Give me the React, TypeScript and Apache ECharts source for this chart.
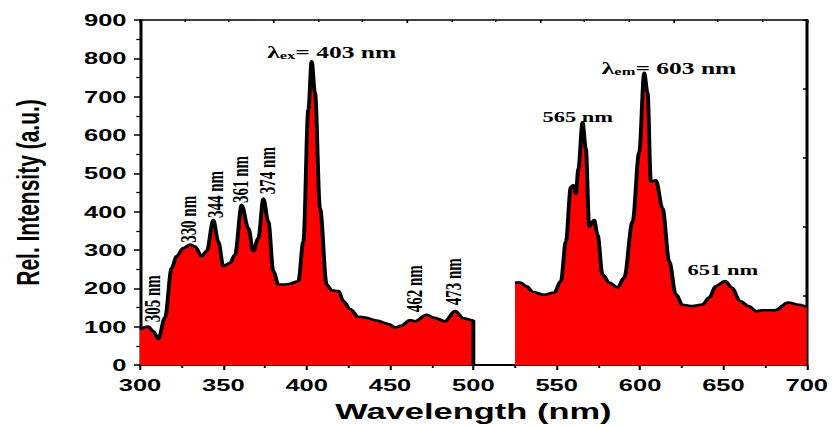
import React, { useEffect, useRef } from "react";
import * as echarts from "echarts";

// Reference figure is horizontally stretched; draw narrow then stretch.
const STRETCH = 1.5;
const W = 832 / STRETCH;
const H = 427;

const xTicksMin = 300;
const xTicksMax = 700;
const xInterval = 50;
const yMin = 0;
const yMax = 900;
const yInterval = 100;

// Excitation spectrum (λem = 603 nm)
const wavelengthEx = [
  300, 305, 308, 311, 315, 319, 322, 326, 330, 333, 337, 340, 344, 347, 350,
  354, 357, 361, 365, 368, 371, 374, 377, 380, 383, 387, 390, 395, 398, 401,
  403, 405, 408, 412, 415, 419, 422, 426, 431, 435, 442, 449, 453, 457, 462,
  465, 472, 476, 483, 489, 494, 500, 500,
];
const intensityEx = [
  93, 100, 88, 68, 124, 253, 284, 305, 314, 309, 284, 297, 378, 322, 258,
  266, 288, 417, 357, 297, 331, 434, 374, 245, 210, 210, 212, 219, 322, 667,
  792, 710, 409, 210, 195, 193, 167, 146, 126, 124, 116, 107, 98, 103, 117,
  114, 131, 124, 114, 141, 122, 116, 0,
];

// Emission spectrum (λex = 403 nm)
const wavelengthEm = [
  525, 528, 532, 535.5, 542.5, 548.5, 552.5, 555.5, 558.5, 560, 561.5, 563,
  565.5, 567.5, 569.5, 572.5, 574.5, 577.5, 581.5, 586.5, 590.5, 595.5, 599.5,
  602.5, 604.5, 606.5, 609.5, 613.5, 617.5, 621.5, 625.5, 631.5, 637.5, 641.5,
  645.5, 651, 655, 660, 665, 670, 673, 681, 689, 694, 700,
];
const intensityEm = [
  215, 215, 205, 191, 183, 189, 219, 322, 465, 469, 447, 512,
  633, 564, 361, 378, 340, 236, 215, 202, 228, 374, 555,
  762, 710, 478, 482, 409, 271, 184, 157, 154, 158, 176,
  206, 219, 202, 167, 154, 140, 143, 143, 163, 158, 152,
];

// Peak annotations (label centre in data coordinates)
const rotatedLabels = ["305 nm", "330 nm", "344 nm", "361 nm", "374 nm", "462 nm", "473 nm"];
const rotatedLabelNm = [307.2, 329.3, 345.5, 360.5, 376.6, 464.7, 488];
const rotatedLabelVal = [173, 380, 445, 484, 507, 199, 217];

const flatLabels = ["565 nm", "651 nm"];
const flatLabelNm = [562.6, 649.7];
const flatLabelVal = [646, 247];

const exLabel = { sub: "ex", text: "= 403 nm", nm: 415, val: 820 };
const emLabel = { sub: "em", text: "= 603 nm", nm: 617.4, val: 778 };

const SERIF = "'Liberation Serif', 'Times New Roman', serif";
const SANS = "'Liberation Sans', Arial, sans-serif";

function buildOption() {
  const exData = wavelengthEx.map((x, i) => [x, intensityEx[i]]);
  const emData = wavelengthEm.map((x, i) => [x, intensityEm[i]]);

  const richLambda = {
    a: { fontFamily: SERIF, fontWeight: "bold", fontSize: 17, color: "#000", lineHeight: 20, verticalAlign: "bottom" },
    s: { fontFamily: SERIF, fontWeight: "bold", fontSize: 11, color: "#000", lineHeight: 13, verticalAlign: "bottom" },
  };

  const markData: any[] = [];
  rotatedLabels.forEach((t, i) => {
    markData.push({
      coord: [rotatedLabelNm[i], rotatedLabelVal[i]],
      label: { formatter: t, rotate: 90 },
    });
  });
  flatLabels.forEach((t, i) => {
    markData.push({
      coord: [flatLabelNm[i], flatLabelVal[i]],
      label: { formatter: t, rotate: 0 },
    });
  });
  [exLabel, emLabel].forEach((l) => {
    markData.push({
      coord: [l.nm, l.val],
      label: {
        formatter: `{a|λ}{s|${l.sub}}{a|${l.text}}`,
        rich: richLambda,
        rotate: 0,
      },
    });
  });

  const areaSeries = (data: number[][], withMarks: boolean) => ({
    type: "line",
    data,
    xAxisIndex: 0,
    yAxisIndex: 0,
    showSymbol: false,
    symbol: "none",
    smooth: 0.35,
    smoothMonotone: "x",
    lineStyle: { color: "#000", width: 2.6 },
    areaStyle: { color: "#ff0000", opacity: 1 },
    z: 3,
    silent: true,
    markPoint: withMarks
      ? {
          symbol: "circle",
          symbolSize: 1,
          itemStyle: { color: "rgba(0,0,0,0)" },
          silent: true,
          label: {
            show: true,
            position: "inside",
            color: "#000",
            fontFamily: SERIF,
            fontWeight: "bold",
            fontSize: 15,
            align: "center",
            verticalAlign: "middle",
          },
          data: markData,
        }
      : undefined,
  });

  return {
    animation: false,
    backgroundColor: "#fff",
    grid: { left: 93.33, right: 16, top: 20, bottom: 59, containLabel: false },
    xAxis: [
      {
        type: "value",
        position: "bottom",
        min: xTicksMin,
        max: xTicksMax,
        interval: xInterval,
        name: "Wavelength (nm)",
        nameLocation: "middle",
        nameGap: 34,
        nameTextStyle: { fontFamily: SANS, fontWeight: "bold", fontSize: 23, color: "#000" },
        axisLine: { show: true, onZero: false, lineStyle: { color: "#000", width: 2 } },
        axisTick: { show: true, inside: false, length: 5, lineStyle: { color: "#000", width: 1.4 } },
        minorTick: { show: true, splitNumber: 2, length: 3, lineStyle: { color: "#000", width: 1.3 } },
        axisLabel: { show: true, margin: 12, fontFamily: SANS, fontWeight: "bold", fontSize: 17, color: "#000" },
        splitLine: { show: false },
      },
      {
        type: "value",
        position: "top",
        min: 0,
        max: 5,
        interval: 1,
        axisLine: { show: true, onZero: false, lineStyle: { color: "#000", width: 1.5 } },
        axisTick: { show: true, inside: true, length: 3, lineStyle: { color: "#000", width: 1.2 } },
        minorTick: { show: true, splitNumber: 3, length: 2, lineStyle: { color: "#000", width: 1 } },
        axisLabel: { show: false },
        splitLine: { show: false },
      },
    ],
    yAxis: [
      {
        type: "value",
        position: "left",
        min: yMin,
        max: yMax,
        interval: yInterval,
        name: "Rel. Intensity (a.u.)",
        nameLocation: "middle",
        nameGap: 64,
        nameTextStyle: { fontFamily: SANS, fontWeight: "bold", fontSize: 21, color: "#000" },
        axisLine: { show: true, onZero: false, lineStyle: { color: "#000", width: 2 } },
        axisTick: { show: true, inside: false, length: 4, lineStyle: { color: "#000", width: 1.5 } },
        minorTick: { show: true, splitNumber: 2, length: 2.5, lineStyle: { color: "#000", width: 1.3 } },
        axisLabel: { show: true, margin: 9, fontFamily: SANS, fontWeight: "bold", fontSize: 17, color: "#000" },
        splitLine: { show: false },
      },
      {
        type: "value",
        position: "right",
        min: 0,
        max: 5,
        interval: 1,
        axisLine: { show: true, onZero: false, lineStyle: { color: "#000", width: 2 } },
        axisTick: { show: true, inside: true, length: 2.5, lineStyle: { color: "#000", width: 1.5 } },
        axisLabel: { show: false },
        splitLine: { show: false },
      },
    ],
    series: [areaSeries(exData, true), areaSeries(emData, false)],
  };
}

export default function App() {
  const ref = useRef<HTMLDivElement>(null);
  useEffect(() => {
    if (!ref.current) return;
    const chart = echarts.init(ref.current, null, { renderer: "svg" });
    chart.setOption(buildOption() as any);
    return () => chart.dispose();
  }, []);
  return (
    <div
      ref={ref}
      style={{
        position: "absolute",
        left: 0,
        top: 0,
        width: W,
        height: H,
        transform: `scaleX(${STRETCH})`,
        transformOrigin: "0 0",
        background: "#fff",
      }}
    />
  );
}
